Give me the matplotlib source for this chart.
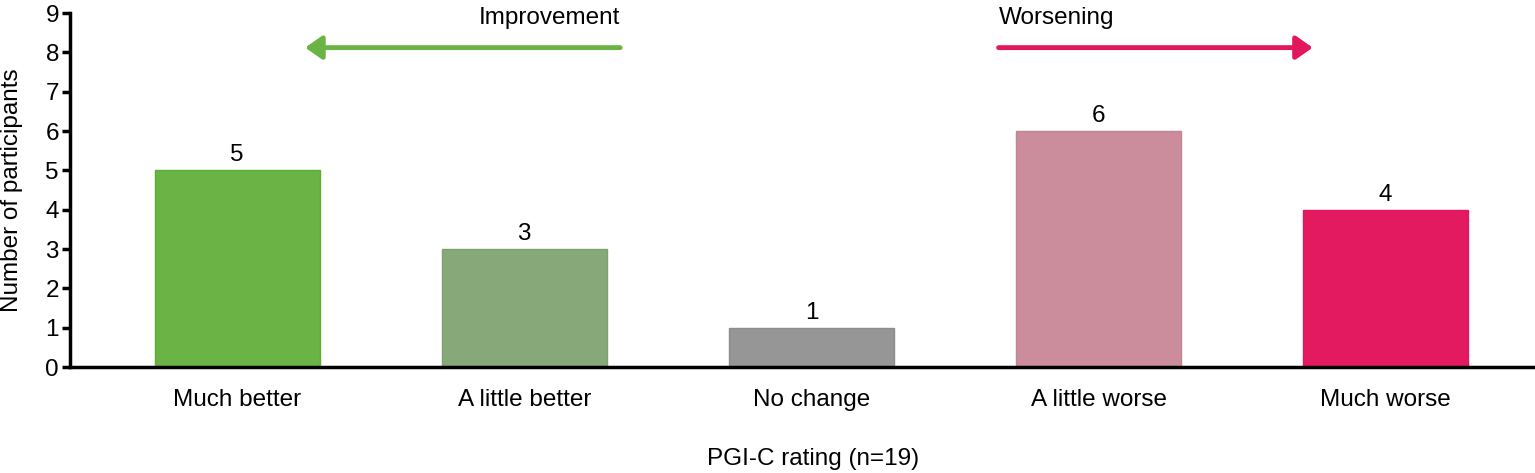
import numpy as np
import matplotlib.pyplot as plt

plt.rcParams['font.family'] = ['Liberation Sans', 'DejaVu Sans']

# Datos
categorias = ['Much better', 'A little better', 'No change', 'A little worse', 'Much worse']
participantes = [5, 3, 1, 6, 4]
colores = ['#6ab344', '#87a878', '#969696', '#cb8c9b', '#e31a5f']
bordes = ['#5aae32', '#7da26e', '#8c8c8c', '#c48394', '#e0185c']

x = np.arange(len(categorias))
fs = 17.5

fig = plt.figure(figsize=(15.35, 4.73), dpi=100)
ax = fig.add_axes([0.0456, 0.224, 0.9544, 0.7485])

ax.bar(x, participantes, width=0.575, color=colores, edgecolor=bordes, linewidth=1)
for xi, v in zip(x, participantes):
    ax.text(xi, v + 0.1, str(v), ha='center', va='bottom', fontsize=fs)

ax.set_xlim(-0.582, 4.52)
ax.set_ylim(0, 9)
ax.set_yticks(range(10))
ax.set_xticks(x)
ax.set_xticklabels(categorias, fontsize=fs)
ax.tick_params(axis='x', length=0, pad=16)
ax.tick_params(axis='y', labelsize=fs, width=2.5, length=6, pad=2)
for lado in ['top', 'right']:
    ax.spines[lado].set_visible(False)
ax.spines['left'].set_linewidth(2.5)
ax.spines['bottom'].set_linewidth(2.5)

ax.set_ylabel('Number of participants', fontsize=fs)
ax.yaxis.set_label_coords(-0.0396, 0.5)
ax.yaxis.label.set_va('center')
ax.set_xlabel('PGI-C rating (n=19)', fontsize=fs)
ax.xaxis.set_label_coords(0.507, -0.26)
ax.xaxis.label.set_va('center')

# Flechas
estilo = '-|>,head_length=0.5,head_width=0.35'
ax.annotate('', xy=(0.237, 8.12), xytext=(1.334, 8.12),
            arrowprops=dict(arrowstyle=estilo, mutation_scale=20, color='#6ab344', lw=3.5,
                            shrinkA=0, shrinkB=0))
ax.annotate('', xy=(3.746, 8.12), xytext=(2.652, 8.12),
            arrowprops=dict(arrowstyle=estilo, mutation_scale=20, color='#e3185c', lw=3.5,
                            shrinkA=0, shrinkB=0))
ax.text(1.334, 8.88, 'Improvement', ha='right', va='center', fontsize=fs)
ax.text(2.652, 8.88, 'Worsening', ha='left', va='center', fontsize=fs)

fig.savefig('out.png', dpi=100)
